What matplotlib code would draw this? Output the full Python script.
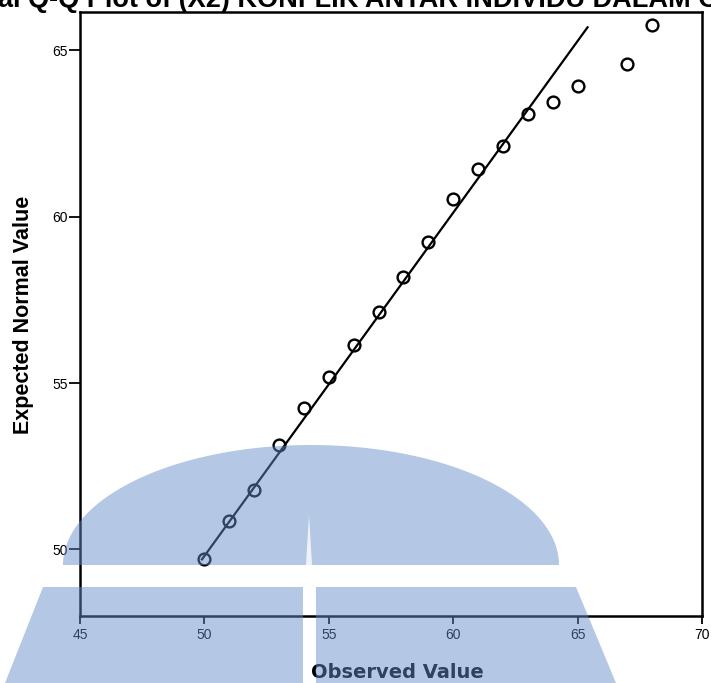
import numpy as np
import matplotlib
matplotlib.use("Agg")
import matplotlib.pyplot as plt
from matplotlib.patches import Polygon

# ---- data ----
observed = [50, 51, 52, 53, 54, 55, 56, 57, 58, 59, 60, 61, 62, 63, 64, 65, 67, 68]
expected = [49.72, 50.86, 51.79, 53.14, 54.26, 55.17, 56.13, 57.15, 58.20, 59.25,
            60.54, 61.44, 62.13, 63.08, 63.44, 63.92, 64.58, 65.75]
ref_x = [49.9, 65.4]
ref_y = [49.7, 65.69]
x_ticks = [45, 50, 55, 60, 65, 70]
y_ticks = [50, 55, 60, 65]
title = "Normal Q-Q Plot of (X2) KONFLIK ANTAR INDIVIDU DALAM ORGANISASI"

W, H = 711, 683
fig = plt.figure(figsize=(W / 100, H / 100), dpi=100)
fig.patch.set_facecolor("white")

def fx(x):
    return x / W

def fy(y):
    return 1 - y / H

ax_l, ax_r, ax_t, ax_b = 80, 702, 12, 616
ax = fig.add_axes([fx(ax_l), fy(ax_b), fx(ax_r - ax_l), (ax_b - ax_t) / H])
ax.set_facecolor("white")

ax.plot(ref_x, ref_y, color="black", lw=1.6, zorder=2)
ax.plot(observed, expected, linestyle="none", marker="o", markersize=8.5,
        markerfacecolor="none", markeredgecolor="black", markeredgewidth=1.7, zorder=3)

ax.set_xlim(45, 70)
ax.set_ylim(48.0, 66.15)
ax.set_xticks(x_ticks)
ax.set_yticks(y_ticks)
ax.set_xticklabels([str(t) for t in x_ticks], fontfamily="Liberation Sans", fontsize=10)
ax.set_yticklabels([str(t) for t in y_ticks], fontfamily="Liberation Sans", fontsize=10)
ax.tick_params(axis="x", length=6, width=1.3, pad=2.5, color="black")
ax.tick_params(axis="y", length=8, width=1.3, pad=1, color="black")
for s in ax.spines.values():
    s.set_linewidth(1.8)
    s.set_color("black")

fig.text(fx(23), fy(315), "Expected Normal Value", rotation=90, ha="center", va="center",
         fontfamily="Liberation Sans", fontweight="bold", fontsize=15.5)
fig.text(fx(397), fy(672), "Observed Value", ha="center", va="center",
         fontfamily="DejaVu Sans", fontweight="bold", fontsize=14)
fig.text(fx(-73), fy(7), title, ha="left", va="baseline",
         fontfamily="Liberation Sans", fontweight="bold", fontsize=19.5)

# ---- watermark (decorative overlay) ----
wm_col = (0.39, 0.55, 0.79)
wm_alpha = 0.48
t = np.linspace(0, np.pi, 200)
cx, cy, a, b = 311, 565, 248, 120
dome = [(fx(cx + a * np.cos(tt)), fy(cy - b * np.sin(tt))) for tt in t]
fig.patches.append(Polygon(dome, closed=True, transform=fig.transFigure,
                           facecolor=wm_col, edgecolor="none", alpha=wm_alpha, zorder=10))
left_low = [(fx(43), fy(587)), (fx(303), fy(587)), (fx(303), fy(683)), (fx(5), fy(683))]
right_low = [(fx(316), fy(587)), (fx(576), fy(587)), (fx(616), fy(683)), (fx(316), fy(683))]
for poly in (left_low, right_low):
    fig.patches.append(Polygon(poly, closed=True, transform=fig.transFigure,
                               facecolor=wm_col, edgecolor="none", alpha=wm_alpha, zorder=10))
stripe = [(fx(309), fy(515)), (fx(312), fy(565)), (fx(306), fy(565))]
fig.patches.append(Polygon(stripe, closed=True, transform=fig.transFigure,
                           facecolor="white", edgecolor="none", alpha=0.8, zorder=11))

fig.savefig("out.png", dpi=100)
